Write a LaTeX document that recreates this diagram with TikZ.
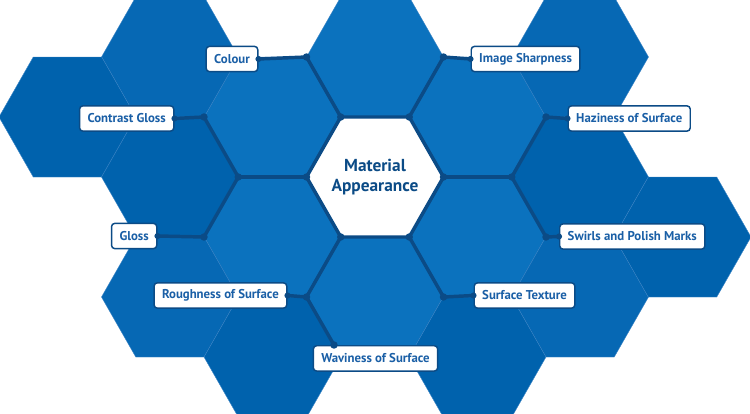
\documentclass[tikz,border=0pt]{standalone}
\usepackage{fontspec}
\setmainfont{PT Sans}
\usetikzlibrary{calc}
\definecolor{hexlight}{HTML}{0B72BE}
\definecolor{hexmid}{HTML}{0668B4}
\definecolor{hexdark}{HTML}{0062AD}
\definecolor{hexedge}{HTML}{3F86C6}
\definecolor{linknavy}{HTML}{0B4B86}
\definecolor{tagtext}{HTML}{1A5FA6}
% one flat-topped cell: centre x, centre y, fill
\newcommand{\hexcell}[3]{%
  \filldraw[fill=#3, draw=hexedge, line width=0.3pt]
    ({#1-68.5},#2) -- ({#1-34.25},{#2-60}) -- ({#1+34.25},{#2-60})
    -- ({#1+68.5},#2) -- ({#1+34.25},{#2+60}) -- ({#1-34.25},{#2+60}) -- cycle;}
\tikzset{
  link/.style={draw=linknavy, line width=2.6pt},
  tag/.style={draw=linknavy, line width=1.1pt, fill=white, rounded corners=2.5pt,
    text=tagtext, font=\bfseries\fontsize{9.6}{11}\selectfont,
    minimum height=19pt, inner xsep=6pt}
}
\begin{document}
\begin{tikzpicture}[x=0.75pt, y=-0.75pt]
            \useasboundingbox (0,0) rectangle (750,414);
            \clip (0,0) rectangle (750,414);
            \foreach \cx/\cy in {375/57, 272.5/117, 477.5/117, 272.5/237, 477.5/237, 375/297}
                \hexcell{\cx}{\cy}{hexlight};
            \foreach \cx/\cy in {170/57, 580/57, 170/297, 580/297}
                \hexcell{\cx}{\cy}{hexmid};
            \foreach \cx/\cy in {67.5/117, 170/177, 580/177, 682.5/237, 272.5/357, 477.5/357}
                \hexcell{\cx}{\cy}{hexdark};
            % centre cell
            \filldraw[fill=white, link] (306.5,177) -- (340.75,117) -- (409.25,117)
                -- (443.5,177) -- (409.25,237) -- (340.75,237) -- cycle;
            \node[text=linknavy, font=\bfseries\fontsize{13}{15.5}\selectfont, align=center]
                (mat) at (375,177) {Material\\Appearance};
            % corners of the centre cell
            \coordinate (ctl) at (340.75,117);
            \coordinate (ctr) at (409.25,117);
            \coordinate (cl) at (306.5,177);
            \coordinate (cr) at (443.5,177);
            \coordinate (cbl) at (340.75,237);
            \coordinate (cbr) at (409.25,237);
            % joints
            \coordinate (ja) at (306.5,57);
            \coordinate (jb) at (443.5,57);
            \coordinate (jc) at (238.25,177);
            \coordinate (jd) at (204,117);
            \coordinate (je) at (204,237);
            \coordinate (jf) at (511.75,177);
            \coordinate (jg) at (546,117);
            \coordinate (jh) at (546,237);
            \coordinate (ji) at (306.5,297);
            \coordinate (jj) at (443.5,297);
            \coordinate (jk) at (334,345);
            % labels
            \node[tag, anchor=east] (colour) at (258.5,59) {Colour};
            \node[tag, anchor=east] (contrast) at (174.5,118.5) {Contrast Gloss};
            \node[tag, anchor=east] (gloss) at (157.5,236) {Gloss};
            \node[tag, anchor=east] (rough) at (287.5,295.5) {Roughness of Surface};
            \node[tag, anchor=north] (wav) at (375.5,345) {Waviness of Surface};
            \node[tag, anchor=west] (sharp) at (470.5,59) {Image Sharpness};
            \node[tag, anchor=west] (haze) at (567.5,118.5) {Haziness of Surface};
            \node[tag, anchor=west] (swirl) at (559,236.5) {Swirls and Polish Marks};
            \node[tag, anchor=west] (texture) at (473.5,295.5) {Surface Texture};
            % connectors
            \draw[link] (colour.east) -- (ja) -- (ctl);
            \draw[link] (sharp.west) -- (jb) -- (ctr);
            \draw[link] (contrast.east) -- (jd) -- (jc) -- (je) -- (gloss.east);
            \draw[link] (jc) -- (cl);
            \draw[link] (haze.west) -- (jg) -- (jf) -- (jh) -- (swirl.west);
            \draw[link] (jf) -- (cr);
            \draw[link] (rough.east) -- (ji) -- (cbl);
            \draw[link] (ji) -- (jk);
            \draw[link] (cbr) -- (jj) -- (texture.west);
            \foreach \p in {ctl, ctr, cl, cr, cbl, cbr, ja, jb, jc, jd, je, jf, jg, jh, ji, jj, jk}
                \fill[linknavy] (\p) circle (2.8pt);
            \foreach \p in {colour.east, contrast.east, gloss.east, rough.east, sharp.west, haze.west, swirl.west, texture.west}
                \fill[linknavy] (\p) circle (2.3pt);
        \end{tikzpicture}
\end{document}
